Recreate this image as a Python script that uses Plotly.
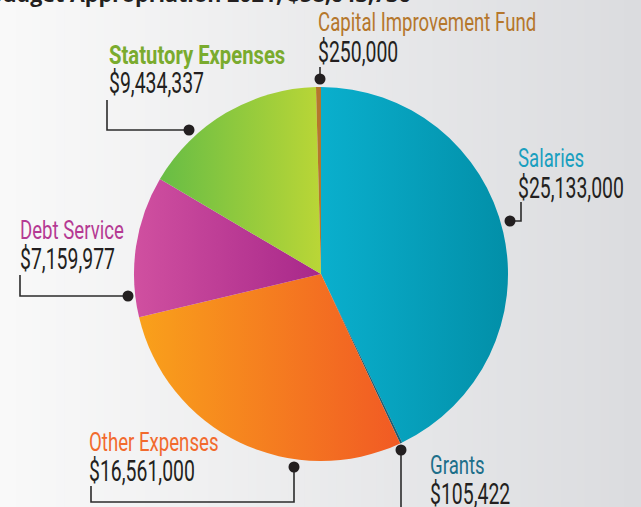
import json
import plotly.graph_objects as go

W, H = 641, 507

categories = ["Salaries", "Grants", "Other Expenses", "Debt Service",
              "Statutory Expenses", "Capital Improvement Fund"]
values = [25133000, 105422, 16561000, 7159977, 9434337, 250000]
value_labels = ["$25,133,000", "$105,422", "$16,561,000", "$7,159,977",
                "$9,434,337", "$250,000"]
title_text = "Budget Appropriation 2021, $58,643,736"

slice_colors = ["#07a2be", "#1c5f73", "#f5822a", "#bf4299", "#9ccb3d", "#b07a2e"]
# horizontal gradient (left colour, right colour) for each slice
slice_gradients = [("#0aafcd", "#028fa8"), ("#1c5f73", "#1c5f73"),
                   ("#f9a11b", "#f15a24"), ("#d050a0", "#a8288a"),
                   ("#67bd45", "#bad636"), ("#b5772c", "#b5772c")]
label_colors = ["#1a9fbf", "#1d6f8a", "#f26a2d", "#b53a93", "#7aab2e", "#b5772c"]


def px(x):
    return x / W


def py(y):
    return 1 - y / H


cx, cy, r = 321, 274, 187

fig = go.Figure()
fig.add_trace(go.Pie(
    labels=categories, values=values, sort=False, direction="clockwise",
    rotation=0, textinfo="none", hoverinfo="label+value",
    marker=dict(colors=slice_colors, line=dict(width=0)),
    domain=dict(x=[px(cx - r), px(cx + r)], y=[py(cy + r), py(cy - r)]),
    showlegend=False,
))

shapes = []
# background gradient
n = 80
c0, c1 = (249, 249, 249), (219, 220, 223)
for i in range(n):
    t = i / (n - 1)
    col = tuple(round(c0[k] + (c1[k] - c0[k]) * t) for k in range(3))
    shapes.append(dict(type="rect", xref="paper", yref="paper", layer="below",
                       x0=i / n, x1=(i + 1) / n + 0.002, y0=0, y1=1,
                       fillcolor="rgb(%d,%d,%d)" % col, line=dict(width=0)))

# label placement (pixel positions of text left edge and centers), leader paths
label_pos = {
    "Salaries": (516, 158, 188),
    "Grants": (428, 465, 494),
    "Other Expenses": (87, 442, 471),
    "Debt Service": (18, 230, 259),
    "Statutory Expenses": (107, 55, 83),
    "Capital Improvement Fund": (316, 22, 52),
}
leaders = {
    "Salaries": [(510, 221), (521, 221), (521, 202)],
    "Grants": [(401, 450), (401, 510)],
    "Other Expenses": [(294, 467), (294, 502), (91, 502), (91, 486)],
    "Debt Service": [(128, 296), (20, 296), (20, 275)],
    "Statutory Expenses": [(189, 130), (107, 130), (107, 100)],
    "Capital Improvement Fund": [(320, 79), (320, 67)],
}

for name, pts in leaders.items():
    path = "M " + " L ".join("%f,%f" % (px(x), py(y)) for x, y in pts)
    shapes.append(dict(type="path", xref="paper", yref="paper", path=path,
                       line=dict(color="#2b2b2b", width=1.6)))
    dx, dy = pts[0]
    rr = 5.5
    shapes.append(dict(type="circle", xref="paper", yref="paper",
                       x0=px(dx - rr), x1=px(dx + rr), y0=py(dy + rr), y1=py(dy - rr),
                       fillcolor="#231f20", line=dict(width=0)))

font_fam = "Roboto, sans-serif"
annotations = []
for i, name in enumerate(categories):
    x, ly, vy = label_pos[name]
    bold = name == "Statutory Expenses"
    annotations.append(dict(
        text=("<b>%s</b>" % name) if bold else name, x=px(x), y=py(ly),
        xref="paper", yref="paper", xanchor="left", yanchor="middle",
        showarrow=False,
        font=dict(family=font_fam, size=25, color=label_colors[i])))
    annotations.append(dict(
        text=value_labels[i], x=px(x), y=py(vy),
        xref="paper", yref="paper", xanchor="left", yanchor="middle",
        showarrow=False,
        font=dict(family=font_fam, size=29, color="#231f20", weight=400)))

annotations.append(dict(
    text="<b>%s</b>" % title_text, x=px(-14), y=py(-6), xref="paper", yref="paper",
    xanchor="left", yanchor="middle", showarrow=False,
    font=dict(family="Open Sans, sans-serif", size=21.5, color="#231f20")))

fig.update_layout(
    width=W, height=H, margin=dict(l=0, r=0, t=0, b=0),
    paper_bgcolor="#ececed", plot_bgcolor="#ececed",
    shapes=shapes, annotations=annotations,
)

post = """
document.body.style.margin = '0';
var gd = document.getElementById('{plot_id}');
var GRADS = %s;
var NS = 'http://www.w3.org/2000/svg';
function styleIt() {
  gd.querySelectorAll('.annotation-text').forEach(function (t) {
    var s = t.textContent;
    if (s.indexOf('Budget') >= 0) return;
    var k = 0.745;
    if (s.charAt(0) === '$') k = 0.67;
    if (s.indexOf('Statutory') >= 0) k = 0.81;
    t.style.transformBox = 'fill-box';
    t.style.transformOrigin = '0%% 50%%';
    t.style.transform = 'scaleX(' + k + ')';
  });
  var svg = gd.querySelector('svg.main-svg');
  var defs = svg.querySelector('defs');
  if (!document.getElementById('slgrad0')) {
    GRADS.forEach(function (g, i) {
      var lg = document.createElementNS(NS, 'linearGradient');
      lg.setAttribute('id', 'slgrad' + i);
      lg.setAttribute('x1', '0'); lg.setAttribute('y1', '0');
      lg.setAttribute('x2', '1'); lg.setAttribute('y2', '0');
      [[0, g[0]], [1, g[1]]].forEach(function (st) {
        var e = document.createElementNS(NS, 'stop');
        e.setAttribute('offset', st[0]);
        e.setAttribute('stop-color', st[1]);
        lg.appendChild(e);
      });
      defs.appendChild(lg);
    });
  }
  gd.querySelectorAll('g.slice path.surface').forEach(function (p, i) {
    if (i < GRADS.length) p.style.fill = 'url(#slgrad' + i + ')';
  });
}
styleIt();
gd.on('plotly_afterplot', styleIt);
""" % json.dumps(slice_gradients)

fig.write_html("out.html", post_script=post, config={"displayModeBar": False})
